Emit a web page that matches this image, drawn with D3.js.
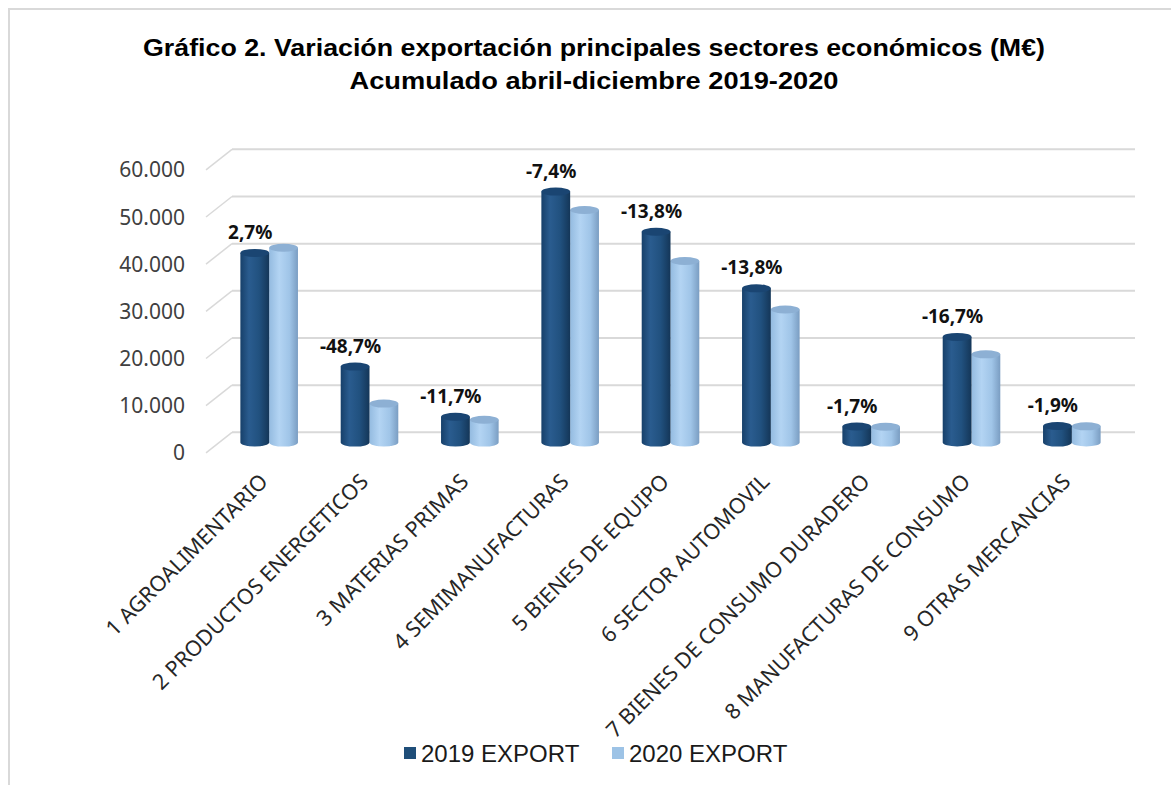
<!DOCTYPE html>
<html>
<head>
<meta charset="utf-8">
<script src="https://cdn.jsdelivr.net/npm/d3@7"></script>
<style>
  html, body { margin: 0; padding: 0; background: #fff; }
  svg { display: block; }
</style>
</head>
<body>
<svg id="chart" width="1171" height="785"></svg>
<script>
const categories = [
  '1 AGROALIMENTARIO',
  '2 PRODUCTOS ENERGETICOS',
  '3 MATERIAS PRIMAS',
  '4 SEMIMANUFACTURAS',
  '5 BIENES DE EQUIPO',
  '6 SECTOR AUTOMOVIL',
  '7 BIENES DE CONSUMO DURADERO',
  '8 MANUFACTURAS DE CONSUMO',
  '9 OTRAS MERCANCIAS'
]
const series = ['2019 EXPORT', '2020 EXPORT']
const export2019 = [40200, 16100, 5470, 53200, 44700, 32700, 3400, 22400, 3500]
const export2020 = [41300, 8260, 4830, 49300, 38500, 28200, 3340, 18700, 3430]
const variation = ['2,7%', '-48,7%', '-11,7%', '-7,4%', '-13,8%', '-13,8%', '-1,7%', '-16,7%', '-1,9%']
const yTicks = [0, 10000, 20000, 30000, 40000, 50000, 60000]
const titleLines = [
  'Gráfico 2. Variación exportación principales sectores económicos (M€)',
  'Acumulado abril-diciembre 2019-2020'
]

const svg = d3.select('#chart')
const DEPTH_X = 26   // floor depth, horizontal
const DEPTH_Y = 20.5 // floor depth, vertical
const GRID = '#d9d9d9'

// chart frame (only top and left edges show)
svg.append('path')
  .attr('d', 'M9,785 L9,9 L1171,9')
  .attr('fill', 'none')
  .attr('stroke', GRID)
  .attr('stroke-width', 2)

// title
svg.selectAll('text.title')
  .data(titleLines)
  .join('text')
  .attr('class', 'title')
  .attr('x', 594)
  .attr('y', (d, i) => 56 + i * 33)
  .attr('text-anchor', 'middle')
  .attr('font-family', 'Liberation Sans, Arial, sans-serif')
  .attr('font-weight', 'bold')
  .attr('font-size', 23)
  .attr('textLength', (d, i) => (i === 0 ? 902 : 489))
  .attr('lengthAdjust', 'spacingAndGlyphs')
  .attr('fill', '#000')
  .text(d => d)

// back wall scale
const yBack = d3.scaleLinear().domain([0, 60000]).range([432.3, 149.3])
const yMid = v => yBack(v) + DEPTH_Y / 2
const backLeft = 232
const backRight = 1135

// gridlines on back wall + side wall diagonals
const grid = svg.append('g')
grid.selectAll('line.back')
  .data(yTicks)
  .join('line')
  .attr('x1', backLeft)
  .attr('x2', backRight)
  .attr('y1', d => yBack(d))
  .attr('y2', d => yBack(d))
  .attr('stroke', GRID)
  .attr('stroke-width', 2)
grid.selectAll('line.side')
  .data(yTicks)
  .join('line')
  .attr('x1', backLeft - DEPTH_X)
  .attr('y1', d => yBack(d) + DEPTH_Y)
  .attr('x2', backLeft)
  .attr('y2', d => yBack(d))
  .attr('stroke', GRID)
  .attr('stroke-width', 1.5)

// y tick labels on front plane
const fmt = d3.formatLocale({ decimal: ',', thousands: '.', grouping: [3], currency: ['', '€'] }).format(',d')
svg.append('g')
  .selectAll('text')
  .data(yTicks)
  .join('text')
  .attr('x', 185)
  .attr('y', d => yBack(d) + DEPTH_Y)
  .attr('dy', '0.36em')
  .attr('text-anchor', 'end')
  .attr('font-family', 'Noto Sans, sans-serif')
  .attr('font-size', 21)
  .attr('fill', '#404040')
  .text(d => fmt(d))

// x scales (bars stand at mid depth)
const x = d3.scaleBand()
  .domain(categories)
  .range([backLeft - DEPTH_X / 2, backRight - DEPTH_X / 2])
  .paddingInner(0.426)
  .paddingOuter(0.213)
const xSub = d3.scaleBand().domain(series).range([0, x.bandwidth()])
const center = c => x(c) + x.bandwidth() / 2

// gradients
const defs = svg.append('defs')
const grads = [
  { id: 'g2019', stops: [[0, '#17406a'], [0.3, '#2a5c8f'], [0.65, '#21517f'], [1, '#143658']] },
  { id: 'g2020', stops: [[0, '#94bbe0'], [0.35, '#b3d4f3'], [0.7, '#a0c5e8'], [1, '#7a9dc2']] }
]
grads.forEach(g => {
  const lg = defs.append('linearGradient').attr('id', g.id).attr('x1', 0).attr('x2', 1).attr('y1', 0).attr('y2', 0)
  g.stops.forEach(s => lg.append('stop').attr('offset', s[0]).attr('stop-color', s[1]))
})
const topColor = { '2019 EXPORT': '#1a4572', '2020 EXPORT': '#8db0d4' }
const legendColor = { '2019 EXPORT': '#1f4e79', '2020 EXPORT': '#9dc3e6' }

const bars = []
categories.forEach((c, i) => {
  bars.push({ cat: c, s: series[1], v: export2020[i], grad: 'g2020' })
  bars.push({ cat: c, s: series[0], v: export2019[i], grad: 'g2019' })
})

const RY = 4
const base = yMid(0)
const barG = svg.append('g')
const bar = barG.selectAll('g')
  .data(bars)
  .join('g')

bar.append('path')
  .attr('d', d => {
    const x0 = x(d.cat) + xSub(d.s)
    const w = xSub.bandwidth()
    const yt = yMid(d.v)
    return `M${x0},${yt} L${x0},${base} A${w / 2},${RY} 0 0 0 ${x0 + w},${base} L${x0 + w},${yt} Z`
  })
  .attr('fill', d => `url(#${d.grad})`)

bar.append('ellipse')
  .attr('cx', d => x(d.cat) + xSub(d.s) + xSub.bandwidth() / 2)
  .attr('cy', d => yMid(d.v))
  .attr('rx', xSub.bandwidth() / 2)
  .attr('ry', RY)
  .attr('fill', d => topColor[d.s])

// variation labels, above the 2019 bar
svg.append('g')
  .selectAll('text')
  .data(categories)
  .join('text')
  .attr('x', c => center(c) - 19)
  .attr('y', (c, i) => yMid(export2019[i]) - 14)
  .attr('text-anchor', 'middle')
  .attr('font-family', 'Noto Sans, sans-serif')
  .attr('font-weight', 'bold')
  .attr('font-size', 19)
  .attr('fill', '#111')
  .text((c, i) => variation[i])

// category labels, rotated
svg.append('g')
  .selectAll('text')
  .data(categories)
  .join('text')
  .attr('transform', c => `translate(${center(c)},483) rotate(-45)`)
  .attr('text-anchor', 'end')
  .attr('font-family', 'Noto Sans, sans-serif')
  .attr('font-size', 21.5)
  .attr('fill', '#262626')
  .text(c => c)

// legend
const legendX = { '2019 EXPORT': 404, '2020 EXPORT': 612 }
const legend = svg.append('g')
  .selectAll('g')
  .data(series)
  .join('g')
  .attr('transform', d => `translate(${legendX[d]},753)`)
legend.append('rect')
  .attr('x', 0)
  .attr('y', -6)
  .attr('width', 12)
  .attr('height', 12)
  .attr('fill', d => legendColor[d])
legend.append('text')
  .attr('x', 17)
  .attr('y', 0)
  .attr('dy', '0.36em')
  .attr('font-family', 'Liberation Sans, Arial, sans-serif')
  .attr('font-size', 24)
  .attr('fill', '#1a1a1a')
  .text(d => d)
</script>
</body>
</html>
